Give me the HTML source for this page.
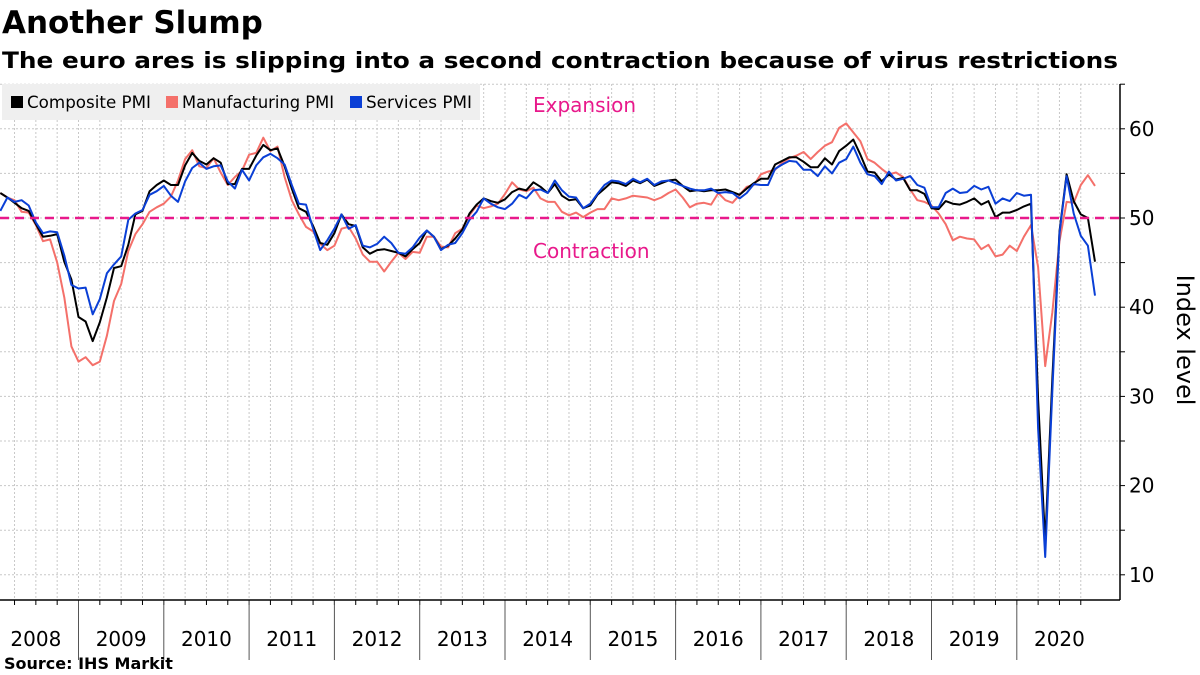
<!DOCTYPE html>
<html><head><meta charset="utf-8"><style>
html,body{margin:0;padding:0;background:#fff;}
svg{display:block;font-family:"DejaVu Sans","Liberation Sans",sans-serif;}
</style></head><body>
<svg id="chart" width="1200" height="675" viewBox="0 0 1200 675" xmlns="http://www.w3.org/2000/svg">
<text x="2" y="33" font-size="31" font-weight="bold" fill="#000">Another Slump</text>
<text x="2" y="68" font-size="22" font-weight="bold" fill="#000" textLength="1116" lengthAdjust="spacingAndGlyphs">The euro ares is slipping into a second contraction because of virus restrictions</text>
<g id="grid"></g>
<g id="series"></g>
<g id="axes"></g>
<g>
<rect x="2" y="84" width="478" height="36" fill="#efefef"/>
<rect x="11" y="96" width="12" height="12" fill="#000"/>
<text x="27" y="108" font-size="17" textLength="124" lengthAdjust="spacingAndGlyphs">Composite PMI</text>
<rect x="166" y="96" width="12" height="12" fill="#f4706a"/>
<text x="182" y="108" font-size="17" textLength="152" lengthAdjust="spacingAndGlyphs">Manufacturing PMI</text>
<rect x="350" y="96" width="12" height="12" fill="#0a3fd6"/>
<text x="366" y="108" font-size="17" textLength="106" lengthAdjust="spacingAndGlyphs">Services PMI</text>
</g>
<text x="533" y="112" font-size="20" fill="#e8198b">Expansion</text>
<text x="533" y="258" font-size="20" fill="#e8198b">Contraction</text>
<text transform="translate(1177,340) rotate(90)" text-anchor="middle" font-size="24">Index level</text>
<text x="4" y="669" font-size="16" font-weight="bold">Source: IHS Markit</text>
</svg>
<script>
const years = ["2008","2009","2010","2011","2012","2013","2014","2015","2016","2017","2018","2019","2020"];
const yTicks = [10,20,30,40,50,60];
const composite = [52.8,52.3,51.7,51.1,50.8,49.3,47.9,48.0,48.2,45.1,43.1,38.9,
38.4,36.2,38.3,41.1,44.4,44.6,47.0,50.4,50.8,53.0,53.7,54.2,
53.7,53.7,55.9,57.3,56.4,56.0,56.7,56.2,53.8,53.8,55.5,55.5,
57.0,58.2,57.6,57.8,55.8,53.3,51.1,50.7,49.1,47.2,47.0,48.3,
50.4,49.3,49.1,46.7,46.0,46.4,46.5,46.3,46.1,45.7,46.5,47.2,
48.6,47.9,46.5,46.9,47.7,48.7,50.5,51.5,52.2,51.9,51.7,52.1,
52.9,53.3,53.1,54.0,53.5,52.8,53.8,52.5,52.0,52.1,51.1,51.4,
52.6,53.3,54.0,53.9,53.6,54.2,53.9,54.3,53.6,53.9,54.2,54.3,
53.6,53.0,53.1,53.0,53.1,53.1,53.2,52.9,52.6,53.3,53.9,54.4,
54.4,56.0,56.4,56.8,56.8,56.3,55.7,55.7,56.7,56.0,57.5,58.1,
58.8,57.1,55.2,55.1,54.1,54.9,54.3,54.5,53.1,53.1,52.7,51.1,
51.0,51.9,51.6,51.5,51.8,52.2,51.5,51.9,50.1,50.6,50.6,50.9,
51.3,51.6,29.7,13.6,31.9,48.5,54.9,51.9,50.4,50.0,45.1];
const manufacturing = [52.8,52.3,52.0,50.7,50.6,49.2,47.4,47.6,45.0,41.1,35.6,33.9,
34.4,33.5,33.9,36.8,40.7,42.6,46.3,48.2,49.3,50.7,51.2,51.6,
52.4,54.2,56.6,57.6,55.8,55.6,56.7,55.1,53.7,54.6,55.3,57.1,
57.3,59.0,57.5,58.0,54.6,52.0,50.4,49.0,48.5,47.1,46.4,46.9,
48.8,49.0,47.7,45.9,45.1,45.1,44.0,45.1,46.1,45.4,46.2,46.1,
47.9,47.9,46.8,46.7,48.3,48.8,50.3,51.4,51.1,51.3,51.6,52.7,
54.0,53.2,53.0,53.4,52.2,51.8,51.8,50.7,50.3,50.6,50.1,50.6,
51.0,51.0,52.2,52.0,52.2,52.5,52.4,52.3,52.0,52.3,52.8,53.2,
52.3,51.2,51.6,51.7,51.5,52.8,52.0,51.7,52.6,53.5,53.7,54.9,
55.2,55.4,56.2,56.7,57.0,57.4,56.6,57.4,58.1,58.5,60.1,60.6,
59.6,58.6,56.6,56.2,55.5,54.9,55.1,54.6,53.2,52.0,51.8,51.4,
50.5,49.3,47.5,47.9,47.7,47.6,46.5,47.0,45.7,45.9,46.9,46.3,
47.9,49.2,44.5,33.4,39.4,47.4,51.8,51.7,53.7,54.8,53.6];
const services = [50.8,52.3,51.8,52.0,51.4,49.5,48.3,48.5,48.4,45.8,42.5,42.1,
42.2,39.2,40.9,43.8,44.8,45.7,49.8,50.5,50.9,52.6,53.0,53.6,
52.5,51.8,54.1,55.6,56.2,55.5,55.8,55.9,54.1,53.3,55.4,54.2,
55.9,56.8,57.2,56.7,56.0,53.7,51.6,51.5,48.8,46.4,47.5,48.8,
50.4,48.8,49.2,46.9,46.7,47.1,47.9,47.2,46.1,46.0,46.7,47.8,
48.6,47.9,46.4,47.0,47.2,48.3,49.8,50.7,52.2,51.6,51.2,51.0,
51.6,52.6,52.2,53.1,53.2,52.8,54.2,53.1,52.4,52.3,51.1,51.6,
52.7,53.7,54.2,54.1,53.8,54.4,54.0,54.4,53.7,54.1,54.2,53.9,
53.6,53.3,53.1,53.1,53.3,52.8,52.9,52.8,52.2,52.8,53.8,53.7,
53.7,55.5,56.0,56.4,56.3,55.4,55.4,54.7,55.8,55.0,56.2,56.6,
58.0,56.2,54.9,54.7,53.8,55.2,54.2,54.4,54.7,53.7,53.4,51.2,
51.2,52.8,53.3,52.8,52.9,53.6,53.2,53.5,51.6,52.2,51.9,52.8,
52.5,52.6,26.4,12.0,30.5,48.3,54.7,50.5,48.0,46.9,41.3];
const threshold = 50;

const NS="http://www.w3.org/2000/svg";
const X0=-6.8, YEARW=85.3, MW=YEARW/12, RIGHT=1120, TOP=84, BOTTOM=600;
function xMonth(i){return X0+(i+1)*MW;}
function xYear(k){return X0+k*YEARW;}
function yv(v){return 218-(v-50)*8.92;}
function mk(tag,parent,attrs){const e=document.createElementNS(NS,tag);for(const k in attrs)e.setAttribute(k,attrs[k]);parent.appendChild(e);return e;}
const grid=document.getElementById('grid'), axes=document.getElementById('axes'), ser=document.getElementById('series');

for(let v=10;v<=65;v+=5){
  const l=mk('line',grid,{x1:0,x2:RIGHT,y1:yv(v),y2:yv(v),stroke:'#c8c8c8','stroke-width':1,'stroke-dasharray':'2,2'});
  
  
  const t=mk('line',axes,{x1:RIGHT,x2:RIGHT+5,y1:yv(v),y2:yv(v),stroke:'#000','stroke-width':1});
  
  
}
for(let q=1;q<years.length*4;q++){
  const x=X0+q*YEARW/4;
  if(x>=RIGHT) continue;
  const l=mk('line',grid,{x1:x,x2:x,y1:TOP,y2:BOTTOM,stroke:'#c8c8c8','stroke-width':1,'stroke-dasharray':'2,2'});
  
  
  const t=mk('line',axes,{x1:x,x2:x,y1:BOTTOM,y2:BOTTOM+5,stroke:'#000','stroke-width':1});
  
  
}
yTicks.forEach(v=>{
  const t=mk('text',axes,{x:RIGHT+9,y:yv(v)+7,'font-size':20});
  
  
  t.textContent=v;
});
years.forEach((y,k)=>{
  if(k<years.length-1){
    const sep=mk('line',axes,{x1:xYear(k+1),x2:xYear(k+1),y1:BOTTOM,y2:660,stroke:'#555','stroke-width':1});
    
    
  }
  const t=mk('text',axes,{x:xYear(k)+YEARW/2,y:646,'font-size':20,'text-anchor':'middle'});
  
  
  t.textContent=y;
});
const ax=mk('line',axes,{x1:0,x2:RIGHT,y1:BOTTOM,y2:BOTTOM,stroke:'#000','stroke-width':1.5});


const ay=mk('line',axes,{x1:RIGHT,x2:RIGHT,y1:TOP,y2:BOTTOM,stroke:'#000','stroke-width':1.5});



function line(data,color,name){
  const d=data.map((v,i)=>(i?'L':'M')+xMonth(i).toFixed(1)+','+yv(v).toFixed(1)).join('');
  const p=mk('path',ser,{d:d,fill:'none',stroke:color,'stroke-width':2,'stroke-linejoin':'round'});
  
  
}
line(manufacturing,'#f4706a','manufacturing-pmi-line');
line(composite,'#000','composite-pmi-line');
line(services,'#0a3fd6','services-pmi-line');
const th=mk('line',ser,{x1:0,x2:RIGHT,y1:yv(threshold),y2:yv(threshold),stroke:'#e8198b','stroke-width':2.5,'stroke-dasharray':'9,6'});


</script>
</body></html>
